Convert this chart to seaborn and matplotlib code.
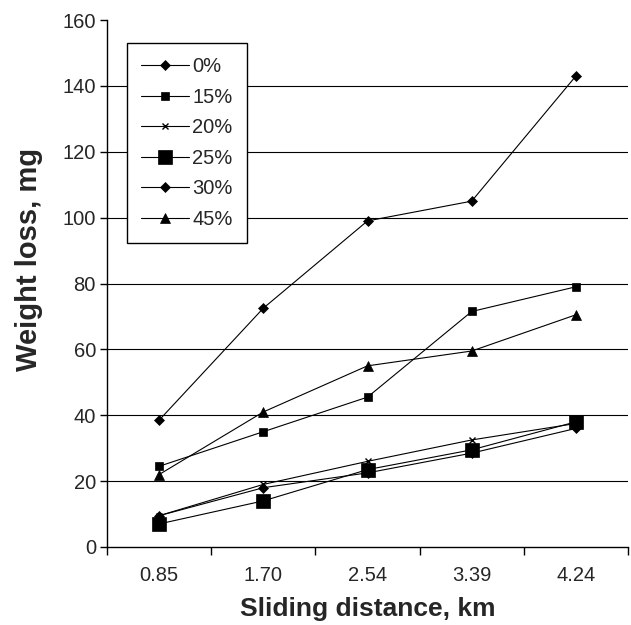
import matplotlib
matplotlib.use("Agg")
import matplotlib.pyplot as plt
import seaborn as sns
import numpy as np
import pandas as pd
from matplotlib.ticker import FixedLocator, NullFormatter

sns.set_style("white")
plt.rcParams['font.family'] = ['Liberation Sans', 'DejaVu Sans']

distances = ["0.85", "1.70", "2.54", "3.39", "4.24"]
series_names = ["0%", "15%", "20%", "25%", "30%", "45%"]
s0 = [38.5, 72.5, 99, 105, 143]
s15 = [24.5, 35, 45.5, 71.5, 79]
s20 = [9.5, 19, 26, 32.5, 37.5]
s25 = [7, 14, 23.5, 29.5, 38]
s30 = [9.5, 18, 22.5, 28.5, 36]
s45 = [22, 41, 55, 59.5, 70.5]
values = [s0, s15, s20, s25, s30, s45]

markers = ["D", "s", "x", "s", "D", "^"]
msizes = [5.5, 6, 5, 10, 5.5, 7]

fig = plt.figure(figsize=(6.31, 6.25), dpi=100)
ax = fig.add_axes([107/631, 78/625, 521/631, 527/625])

xpos = np.arange(len(distances))
for name, vals, m, ms in zip(series_names, values, markers, msizes):
    df = pd.DataFrame({"x": xpos, "y": vals})
    sns.lineplot(data=df, x="x", y="y", ax=ax, color="black", linewidth=0.8,
                 marker=m, markersize=ms, markeredgecolor="black",
                 markerfacecolor="black", markeredgewidth=1.0 if m == "x" else 0.5,
                 label=name)

ax.set_xlim(-0.5, len(distances) - 0.5)
ax.set_ylim(0, 160)
ax.set_yticks(np.arange(0, 161, 20))
ax.tick_params(axis='y', direction='out', length=5, width=1, color='black',
               labelsize=14.5, pad=3, left=True)
ax.xaxis.set_major_locator(FixedLocator(np.arange(-0.5, len(distances), 1.0)))
ax.xaxis.set_major_formatter(NullFormatter())
ax.xaxis.set_minor_locator(FixedLocator(xpos))
ax.set_xticklabels(distances, minor=True)
ax.tick_params(axis='x', which='major', direction='out', length=6, width=1,
               color='black', bottom=True)
ax.tick_params(axis='x', which='minor', length=0, labelsize=14.5, pad=14)

ax.yaxis.grid(True, color='black', linewidth=0.8)
ax.xaxis.grid(False)
ax.get_ygridlines()[-1].set_visible(False)
ax.get_ygridlines()[0].set_visible(False)

for side in ['top', 'right']:
    ax.spines[side].set_visible(False)
for side in ['left', 'bottom']:
    ax.spines[side].set_color('black')
    ax.spines[side].set_linewidth(1.0)

ax.set_xlabel("Sliding distance, km", fontsize=19, fontweight='bold', labelpad=8)
ax.set_ylabel("Weight loss, mg", fontsize=21, fontweight='bold')
ax.yaxis.set_label_coords(-0.123, 0.545)

leg = ax.legend(loc='upper left', bbox_to_anchor=(0.038, 0.956), frameon=True,
                fancybox=False, edgecolor='black', fontsize=14.5, handlelength=2.4,
                labelspacing=0.57, borderpad=0.7, handletextpad=0.15,
                borderaxespad=0)
leg.get_frame().set_linewidth(1.0)
leg.get_frame().set_alpha(1)

fig.savefig("out.png", dpi=100, facecolor='white')
